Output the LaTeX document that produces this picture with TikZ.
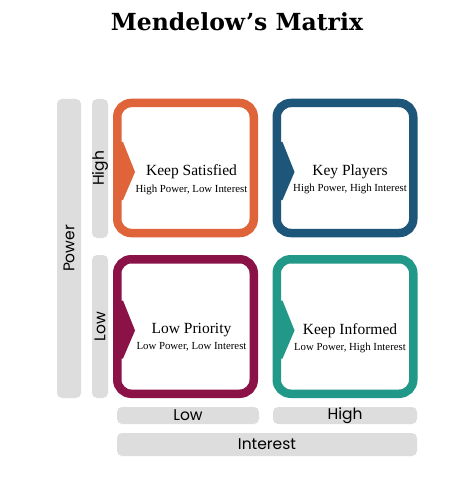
\documentclass[tikz,border=0pt]{standalone}
\usepackage{fontspec}
\setmainfont{Liberation Serif}
\newfontfamily\titlefont{DejaVu Serif}
\newfontfamily\axisfont{Poppins}
\usetikzlibrary{positioning}
\definecolor{satorange}{RGB}{224,100,58}
\definecolor{playblue}{RGB}{30,86,122}
\definecolor{lowmaroon}{RGB}{138,18,70}
\definecolor{infteal}{RGB}{34,152,136}
\definecolor{bargray}{RGB}{221,221,221}
\tikzset{
  quad/.style={draw=#1, line width=8.5pt, rounded corners=14pt, minimum width=136.5pt, inner sep=0pt},
  bar/.style={fill=bargray, rounded corners=5pt, inner sep=0pt, font=\axisfont\fontsize{15.5}{15.5}\selectfont},
  headline/.style={inner sep=1pt, font=\fontsize{15.5}{15.5}\selectfont},
  subline/.style={inner sep=1pt, font=\fontsize{10.8}{11}\selectfont},
}
\begin{document}
\begin{tikzpicture}[x=1pt,y=-1pt]
\useasboundingbox[fill=white] (0,0) rectangle (474,489);
\node[font=\titlefont\bfseries\fontsize{23.5}{23.5}\selectfont] (title) at (237,22) {Mendelow’s Matrix};

\node[quad=satorange, minimum height=130pt] (ks) at (185.5,168) {};
\node[quad=playblue, minimum height=130pt] (kp) at (345,168) {};
\node[quad=lowmaroon, minimum height=134.5pt] (lp) at (185.5,326.5) {};
\node[quad=infteal, minimum height=134.5pt] (ki) at (345,326.5) {};

\foreach \b/\c in {ks/satorange, kp/playblue, lp/lowmaroon, ki/infteal}
  \fill[\c] ([shift={(3,-26)}]\b.west) -- ++(7,0) -- ++(12,30) -- ++(-12,28) -- ++(-7,0) -- cycle;

\node[headline] (kst) at ([shift={(6,4)}]ks.center) {Keep Satisfied};
\node[subline, below=3pt of kst] (kss) {High Power, Low Interest};
\node[headline] (kpt) at ([shift={(5,4)}]kp.center) {Key Players};
\node[subline, below=3pt of kpt] (kps) {High Power, High Interest};
\node[headline] (lpt) at ([shift={(6,4)}]lp.center) {Low Priority};
\node[subline, below=3pt of lpt] (lps) {Low Power, Low Interest};
\node[headline] (kit) at ([shift={(5,4)}]ki.center) {Keep Informed};
\node[subline, below=3pt of kit] (kis) {Low Power, High Interest};

\node[bar, rotate=90, minimum width=299pt, minimum height=24pt] (power) at (69,248.5) {Power};
\node[bar, rotate=90, minimum width=139pt, minimum height=16pt] (phigh) at (100,168.5) {High};
\node[bar, rotate=90, minimum width=143pt, minimum height=16pt] (plow) at (100,326.5) {Low};
\node[bar, minimum width=142pt, minimum height=17pt] (ilow) at (188,415.5) {Low};
\node[bar, minimum width=144pt, minimum height=17pt] (ihigh) at (345,415.5) {High};
\node[bar, minimum width=300pt, minimum height=23pt] (interest) at (267,444.5) {Interest};
\end{tikzpicture}
\end{document}
